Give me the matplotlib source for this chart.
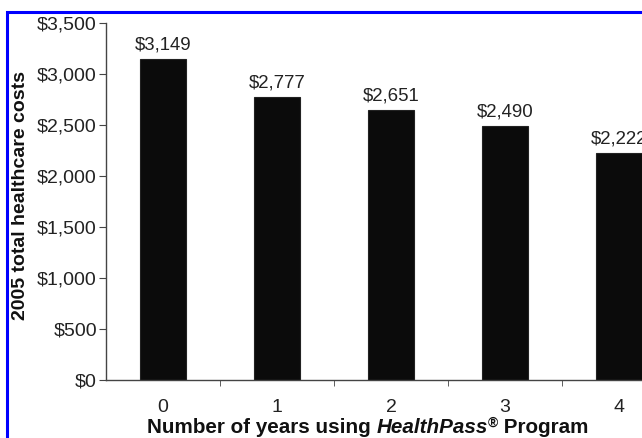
import matplotlib
matplotlib.use("Agg")
import matplotlib.pyplot as plt
from matplotlib.patches import Rectangle

plt.rcParams['font.family'] = ['Liberation Sans', 'DejaVu Sans']

# healthcare cost by years in the program
years = ['0', '1', '2', '3', '4']
costs = [3149, 2777, 2651, 2490, 2222]
cost_labels = ['$3,149', '$2,777', '$2,651', '$2,490', '$2,222']
yticks = [0, 500, 1000, 1500, 2000, 2500, 3000, 3500]
ytick_labels = ['$0', '$500', '$1,000', '$1,500', '$2,000', '$2,500', '$3,000', '$3,500']

W, H = 642, 438
fig = plt.figure(figsize=(W / 100, H / 100), dpi=100)
fig.patch.set_facecolor('white')

# axes runs past the right edge, so the last bar gets clipped
ax = fig.add_axes([106 / W, 58 / H, 570 / W, 357 / H])
x = list(range(len(years)))
ax.bar(x, costs, width=0.41, color='#0b0b0b', edgecolor='#222222', linewidth=0.8)
for xi, c, lab in zip(x, costs, cost_labels):
    ax.annotate(lab, (xi, c), xytext=(0, 4), textcoords='offset points',
                ha='center', va='bottom', fontsize=13.4, color='#222222')

ax.set_xlim(-0.5, 4.5)
ax.set_ylim(0, 3500)
ax.set_yticks(yticks)
ax.set_yticklabels(ytick_labels, fontsize=14, color='#222222')
ax.set_xticks(x)
ax.set_xticklabels(years, fontsize=14, color='#222222')
ax.set_xticks([0.5, 1.5, 2.5, 3.5], minor=True)
ax.tick_params(axis='x', which='major', length=0, pad=14)
ax.tick_params(axis='x', which='minor', length=4, color='#444444', direction='out')
ax.tick_params(axis='y', length=5, color='#444444', direction='out', pad=1.5)
for s in ['top', 'right']:
    ax.spines[s].set_visible(False)
for s in ['left', 'bottom']:
    ax.spines[s].set_color('#444444')
    ax.spines[s].set_linewidth(1.0)

fig.text(21 / W, 1 - 195 / H, '2005 total healthcare costs', rotation=90,
         ha='center', va='center', fontsize=14, fontweight='bold', color='#111111')

# x label in pieces: plain bold, bold italic name, superscript mark, plain bold
renderer = fig.canvas.get_renderer()
base_y = 1 - 433 / H
cur_x = 147 / W
pieces = [
    ('Number of years using ', 'normal', 14.9, 0),
    ('HealthPass', 'italic', 14.9, 0),
    ('\u00ae', 'normal', 10, 6),
    (' Program', 'normal', 14.9, 0),
]
for txt, style, size, rise in pieces:
    t = fig.text(cur_x, base_y + rise / H, txt, ha='left', va='baseline',
                 fontsize=size, fontweight='bold', style=style, color='#111111')
    bb = t.get_window_extent(renderer)
    cur_x = bb.x1 / W

# blue frame around the figure, cut off at right and bottom
fig.patches.append(Rectangle((7 / W, -0.1), 1.2, 1 - 12 / H + 0.1,
                             transform=fig.transFigure, fill=False,
                             edgecolor='#0000ff', linewidth=2.2))

fig.savefig('out.png', dpi=100)
